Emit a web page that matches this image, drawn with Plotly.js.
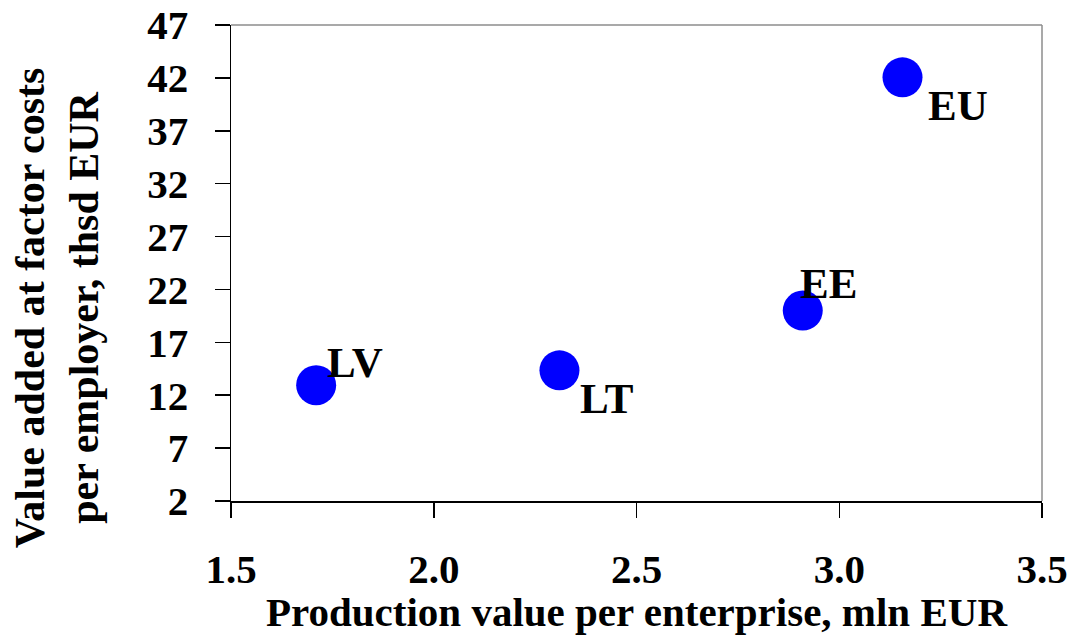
<!DOCTYPE html>
<html>
<head>
<meta charset="utf-8">
<script src="https://cdn.plot.ly/plotly-3.0.1.min.js"></script>
<style>
  html, body { margin: 0; padding: 0; background: #fff; }
  #chart { width: 1070px; height: 635px; }
</style>
</head>
<body>
<div id="chart"></div>
<script>
// ---- Data ----
const countries = ["LV", "LT", "EE", "EU"];
const productionValue = [1.71, 2.31, 2.91, 3.156];   // mln EUR per enterprise
const valueAdded = [12.95, 14.35, 20.0, 42.05];      // thsd EUR per employer
const xTitle = "Production value per enterprise, mln EUR";
const yTitleLines = ["Value added at factor costs", "per employer, thsd EUR"];

// label placement (style only)
const labelShift = {
  LV: [9, 23],
  LT: [19, -28],
  EE: [-5, 27],
  EU: [23, -28]
};

const FONT = "Liberation Serif, Times New Roman, serif";

const trace = {
  type: "scatter",
  mode: "markers",
  x: productionValue,
  y: valueAdded,
  marker: { size: 40, color: "#0000FF", line: { width: 0 } },
  hoverinfo: "x+y",
  showlegend: false
};

const annotations = countries.map((c, i) => ({
  x: productionValue[i],
  y: valueAdded[i],
  xref: "x",
  yref: "y",
  text: c,
  showarrow: false,
  xanchor: "left",
  yanchor: "middle",
  xshift: labelShift[c][0],
  yshift: labelShift[c][1],
  font: { family: FONT, size: 43, color: "#000", weight: "bold" }
}));

annotations.push({
  xref: "paper",
  yref: "paper",
  x: 0,
  xshift: -174,
  y: 0.405,
  text: yTitleLines.join("<br>"),
  showarrow: false,
  textangle: -90,
  xanchor: "center",
  yanchor: "middle",
  font: { family: FONT, size: 42, color: "#000", weight: "bold" }
});

const layout = {
  width: 1070,
  height: 635,
  margin: { l: 230.5, r: 28, t: 25, b: 133.5 },
  paper_bgcolor: "#fff",
  plot_bgcolor: "#fff",
  font: { family: FONT, color: "#000" },
  xaxis: {
    range: [1.5, 3.5],
    tick0: 1.5,
    dtick: 0.5,
    tickformat: ".1f",
    ticks: "outside",
    ticklen: 15,
    tickwidth: 1.5,
    tickcolor: "#000",
    showline: true,
    linecolor: "#000",
    linewidth: 1.5,
    showgrid: false,
    zeroline: false,
    ticklabelstandoff: 16,
    tickfont: { family: FONT, size: 41, color: "#000", weight: "bold" },
    title: {
      text: xTitle,
      standoff: 5,
      font: { family: FONT, size: 41, color: "#000", weight: "bold" }
    }
  },
  yaxis: {
    range: [2, 47],
    tick0: 2,
    dtick: 5,
    ticks: "outside",
    ticklen: 15,
    tickwidth: 1.5,
    tickcolor: "#000",
    showline: true,
    linecolor: "#000",
    linewidth: 1.5,
    showgrid: false,
    zeroline: false,
    ticklabelstandoff: 18,
    tickfont: { family: FONT, size: 41, color: "#000", weight: "bold" }
  },
  shapes: [
    { type: "line", xref: "paper", yref: "paper", x0: 0, x1: 1, y0: 1, y1: 1,
      line: { color: "#8c8c8c", width: 1.5 } },
    { type: "line", xref: "paper", yref: "paper", x0: 1, x1: 1, y0: 0, y1: 1,
      line: { color: "#8c8c8c", width: 1.5 } }
  ],
  annotations: annotations
};

Plotly.newPlot("chart", [trace], layout, { displayModeBar: false, staticPlot: true });
</script>
</body>
</html>
